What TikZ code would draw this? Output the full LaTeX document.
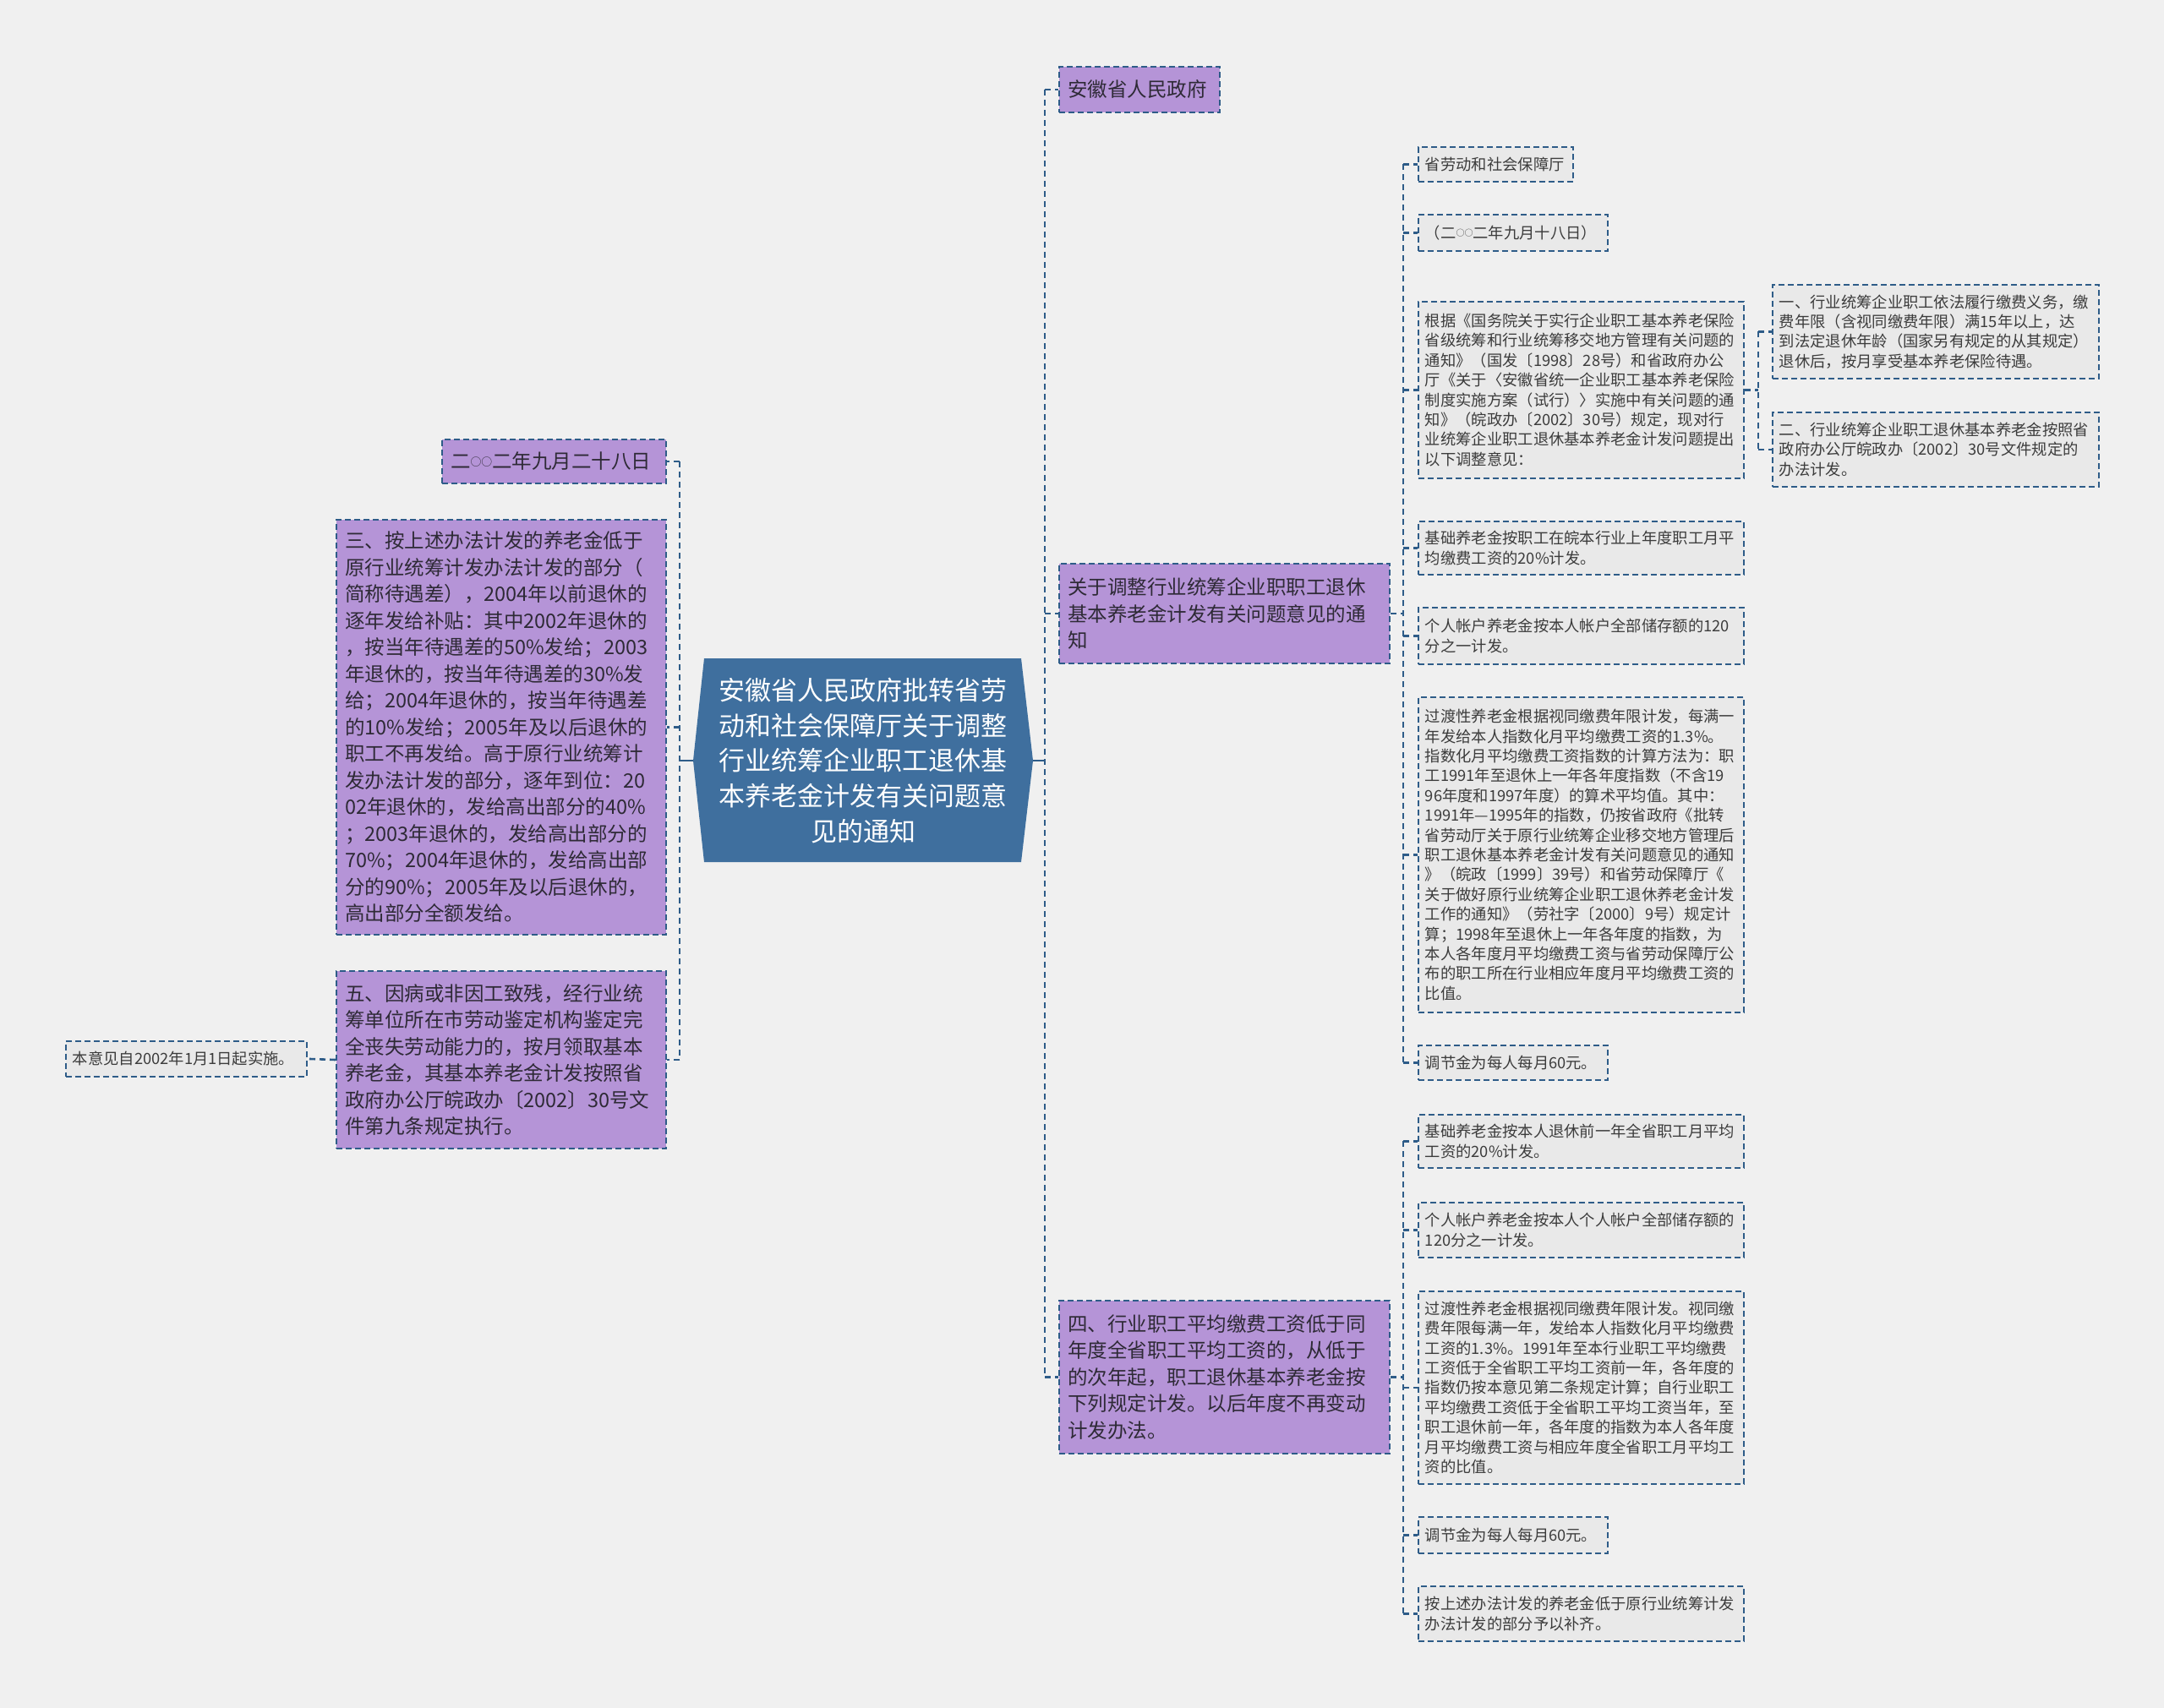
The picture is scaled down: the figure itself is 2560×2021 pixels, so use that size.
\documentclass[tikz,border=0pt]{standalone}
\usepackage{fontspec}
\setmainfont{Noto Sans CJK SC}
\definecolor{bgc}{HTML}{F0F0F0}
\definecolor{linec}{HTML}{2E5C88}
\definecolor{rootc}{HTML}{3F6F9E}
\definecolor{purp}{HTML}{B594D7}
\definecolor{greyc}{HTML}{E9E9E9}
\definecolor{txtc}{HTML}{2E2A36}
\definecolor{leaftxt}{HTML}{3C3C3C}
\newcommand\lingc{\raisebox{.15em}{\scalebox{.55}{○}}}
\tikzset{
  link/.style={draw=linec, line width=2.6pt, dash pattern=on 7pt off 5pt},
  stem/.style={draw=linec, line width=2.6pt},
  topic/.style={anchor=north west, draw=linec, line width=2pt, dash pattern=on 7pt off 4pt, fill=purp, text=txtc, align=left, inner xsep=10pt, inner ysep=4pt, font=\fontsize{23.5pt}{31.5pt}\selectfont},
  leaf/.style={anchor=north west, draw=linec, line width=1.8pt, dash pattern=on 7pt off 4pt, fill=greyc, text=leaftxt, align=left, inner xsep=8pt, inner ysep=3pt, font=\fontsize{18.3pt}{23.4pt}\selectfont},
  rootlabel/.style={text=white, align=center, minimum width=402pt, minimum height=241pt, inner sep=0pt, font=\fontsize{31pt}{41.7pt}\selectfont}
}
\begin{document}
\begin{tikzpicture}[x=1pt, y=-1pt]
\useasboundingbox (0,0) rectangle (2560,2021);
\fill[bgc] (0,0) rectangle (2560,2021);

\fill[rootc] (833,779) -- (1208,779) -- (1222,900) -- (1208,1020) -- (833,1020) -- (820,900) -- cycle;
\node[rootlabel] (root) at (1021,900) {安徽省人民政府批转省劳\\动和社会保障厅关于调整\\行业统筹企业职工退休基\\本养老金计发有关问题意\\见的通知};

\node[topic, text width=245pt, minimum height=52pt] (date28) at (522,519) {二\lingc\lingc 二年九月二十八日};
\node[topic, text width=370pt, minimum height=491pt] (san) at (397,614) {三、按上述办法计发的养老金低于\\原行业统筹计发办法计发的部分（\\简称待遇差），2004年以前退休的\\逐年发给补贴：其中2002年退休的\\，按当年待遇差的50\%发给；2003\\年退休的，按当年待遇差的30\%发\\给；2004年退休的，按当年待遇差\\的10\%发给；2005年及以后退休的\\职工不再发给。高于原行业统筹计\\发办法计发的部分，逐年到位：20\\02年退休的，发给高出部分的40\%\\；2003年退休的，发给高出部分的\\70\%；2004年退休的，发给高出部\\分的90\%；2005年及以后退休的，\\高出部分全额发给。};
\node[topic, text width=370pt, minimum height=210pt] (wu) at (397,1148) {五、因病或非因工致残，经行业统\\筹单位所在市劳动鉴定机构鉴定完\\全丧失劳动能力的，按月领取基本\\养老金，其基本养老金计发按照省\\政府办公厅皖政办〔2002〕30号文\\件第九条规定执行。};
\node[leaf, text width=269pt, minimum height=42pt] (shishi) at (77,1231) {本意见自2002年1月1日起实施。};

\node[topic, text width=170pt, minimum height=54pt] (gov) at (1252,78) {安徽省人民政府};
\node[topic, text width=371pt, minimum height=118pt] (guanyu) at (1252,666) {关于调整行业统筹企业职职工退休\\基本养老金计发有关问题意见的通\\知};
\node[topic, text width=371pt, minimum height=181pt] (si) at (1252,1538) {四、行业职工平均缴费工资低于同\\年度全省职工平均工资的，从低于\\的次年起，职工退休基本养老金按\\下列规定计发。以后年度不再变动\\计发办法。};

\node[leaf, text width=167pt, minimum height=41pt] (ting) at (1677,173) {省劳动和社会保障厅};
\node[leaf, text width=208pt, minimum height=43pt] (date18) at (1677,253) {（二\lingc\lingc 二年九月十八日）};
\node[leaf, text width=369pt, minimum height=209pt] (genju) at (1677,356) {根据《国务院关于实行企业职工基本养老保险\\省级统筹和行业统筹移交地方管理有关问题的\\通知》（国发〔1998〕28号）和省政府办公\\厅《关于〈安徽省统一企业职工基本养老保险\\制度实施方案（试行）〉实施中有关问题的通\\知》（皖政办〔2002〕30号）规定，现对行\\业统筹企业职工退休基本养老金计发问题提出\\以下调整意见：};
\node[leaf, text width=369pt, minimum height=63pt] (jichu1) at (1677,616) {基础养老金按职工在皖本行业上年度职工月平\\均缴费工资的20\%计发。};
\node[leaf, text width=369pt, minimum height=67pt] (geren1) at (1677,718) {个人帐户养老金按本人帐户全部储存额的120\\分之一计发。};
\node[leaf, text width=369pt, minimum height=373pt] (guodu1) at (1677,824) {过渡性养老金根据视同缴费年限计发，每满一\\年发给本人指数化月平均缴费工资的1.3\%。\\指数化月平均缴费工资指数的计算方法为：职\\工1991年至退休上一年各年度指数（不含19\\96年度和1997年度）的算术平均值。其中：\\1991年—1995年的指数，仍按省政府《批转\\省劳动厅关于原行业统筹企业移交地方管理后\\职工退休基本养老金计发有关问题意见的通知\\》（皖政〔1999〕39号）和省劳动保障厅《\\关于做好原行业统筹企业职工退休养老金计发\\工作的通知》（劳社字〔2000〕9号）规定计\\算；1998年至退休上一年各年度的指数，为\\本人各年度月平均缴费工资与省劳动保障厅公\\布的职工所在行业相应年度月平均缴费工资的\\比值。};
\node[leaf, text width=208pt, minimum height=41pt] (tiaojie1) at (1677,1236) {调节金为每人每月60元。};

\node[leaf, text width=370pt, minimum height=111pt] (yi) at (2096,336) {一、行业统筹企业职工依法履行缴费义务，缴\\费年限（含视同缴费年限）满15年以上，达\\到法定退休年龄（国家另有规定的从其规定）\\退休后，按月享受基本养老保险待遇。};
\node[leaf, text width=370pt, minimum height=88pt] (er) at (2096,487) {二、行业统筹企业职工退休基本养老金按照省\\政府办公厅皖政办〔2002〕30号文件规定的\\办法计发。};

\node[leaf, text width=369pt, minimum height=63pt] (jichu2) at (1677,1318) {基础养老金按本人退休前一年全省职工月平均\\工资的20\%计发。};
\node[leaf, text width=369pt, minimum height=65pt] (geren2) at (1677,1422) {个人帐户养老金按本人个人帐户全部储存额的\\120分之一计发。};
\node[leaf, text width=369pt, minimum height=228pt] (guodu2) at (1677,1527) {过渡性养老金根据视同缴费年限计发。视同缴\\费年限每满一年，发给本人指数化月平均缴费\\工资的1.3\%。1991年至本行业职工平均缴费\\工资低于全省职工平均工资前一年，各年度的\\指数仍按本意见第二条规定计算；自行业职工\\平均缴费工资低于全省职工平均工资当年，至\\职工退休前一年，各年度的指数为本人各年度\\月平均缴费工资与相应年度全省职工月平均工\\资的比值。};
\node[leaf, text width=208pt, minimum height=43pt] (tiaojie2) at (1677,1794) {调节金为每人每月60元。};
\node[leaf, text width=369pt, minimum height=65pt] (buqi) at (1677,1876) {按上述办法计发的养老金低于原行业统筹计发\\办法计发的部分予以补齐。};

\coordinate (t0) at (804,0);
\coordinate (t1) at (1236,0);
\coordinate (t2) at (1660,0);
\coordinate (t3) at (2080,0);

\draw[stem] (root.west) -- (root.west -| t0);
\draw[link] (date28.east -| t0) -- (wu.east -| t0);
\foreach \n in {date28,san,wu}
  \draw[link] (\n.east -| t0) -- (\n.east);
\draw[link] (wu.west) -- (shishi.east);

\draw[stem] (root.east) -- (root.east -| t1);
\draw[link] (gov.west -| t1) -- (si.west -| t1);
\foreach \n in {gov,guanyu,si}
  \draw[link] (\n.west -| t1) -- (\n.west);

\draw[link] (guanyu.east) -- (guanyu.east -| t2);
\draw[link] (ting.west -| t2) -- (tiaojie1.west -| t2);
\foreach \n in {ting,date18,genju,jichu1,geren1,guodu1,tiaojie1}
  \draw[link] (\n.west -| t2) -- (\n.west);

\draw[link] (genju.east) -- (genju.east -| t3);
\draw[link] (yi.west -| t3) -- (er.west -| t3);
\foreach \n in {yi,er}
  \draw[link] (\n.west -| t3) -- (\n.west);

\draw[link] (si.east) -- (si.east -| t2);
\draw[link] (jichu2.west -| t2) -- (buqi.west -| t2);
\foreach \n in {jichu2,geren2,guodu2,tiaojie2,buqi}
  \draw[link] (\n.west -| t2) -- (\n.west);
\end{tikzpicture}
\end{document}
